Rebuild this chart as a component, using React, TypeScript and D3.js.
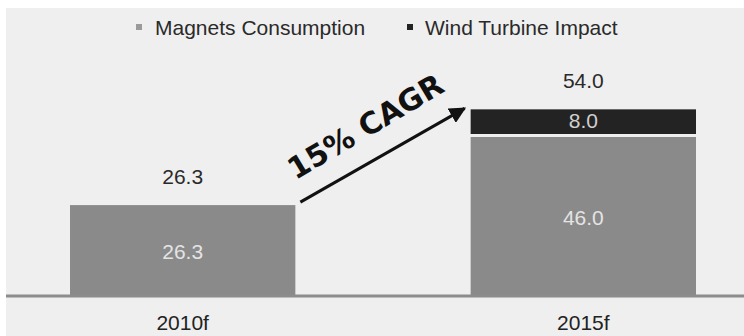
import React from "react";
import * as d3 from "d3";

// Rare-earth magnet demand (thousand tonnes)
const categories = ["2010f", "2015f"];
const magnetsConsumption = [26.3, 46.0];
const windTurbineImpact = [0, 8.0];
const seriesNames = ["Magnets Consumption", "Wind Turbine Impact"];
const cagrLabel = "15% CAGR";

const W = 744;
const H = 336;
const BASE = 296;
const GAP = 3;

const colors = { magnets: "#8a8a8a", wind: "#232323", bg: "#efefef", axis: "#8c8c8c" };
const font = "'Liberation Sans', Arial, sans-serif";

export default function App() {
  const x = d3.scaleBand<string>().domain(categories).range([70, 696]).paddingInner(0.4375).paddingOuter(0);
  const y = d3.scaleLinear().domain([0, 46]).range([BASE, 137]);

  const rows = categories.map((c, i) => ({
    cat: c,
    m: magnetsConsumption[i],
    w: windTurbineImpact[i],
    total: magnetsConsumption[i] + windTurbineImpact[i],
  }));

  const bw = x.bandwidth();

  // Arrow between the two bars
  const x0 = x(categories[0])! + bw;
  const x1 = x(categories[1])!;
  const tail = [x0 + 5, y(rows[0].total) - 3];
  const head = [x1 - 6, y(rows[1].total) - 1];
  const ang = (Math.atan2(head[1] - tail[1], head[0] - tail[0]) * 180) / Math.PI;
  const mid = [(tail[0] + head[0]) / 2 - 16, (tail[1] + head[1]) / 2 - 27];

  return (
    <svg width={W} height={H} style={{ position: "absolute", left: 0, top: 0, background: "#fff" }}>
      <defs>
        <marker id="ah" viewBox="0 0 10 10" refX="9" refY="5" markerWidth="5.5" markerHeight="5.5" orient="auto">
          <path d="M0,0 L10,5 L0,10 z" fill="#111" />
        </marker>
      </defs>
      <rect x={6} y={8} width={W - 6} height={H - 8} fill={colors.bg} />

      {/* legend */}
      <g fontFamily={font} fontSize={21} fill="#2a2a2a">
        <rect x={136} y={24} width={6} height={6} fill="#9a9a9a" />
        <text x={155} y={35}>{seriesNames[0]}</text>
        <rect x={407} y={24} width={6} height={6} fill={colors.wind} />
        <text x={425} y={35}>{seriesNames[1]}</text>
      </g>

      {/* bars */}
      {rows.map((r) => {
        const bx = x(r.cat)!;
        return (
          <g key={r.cat} fontFamily={font} fontSize={21} textAnchor="middle">
            <rect x={bx} y={y(r.m)} width={bw} height={BASE - y(r.m)} fill={colors.magnets} />
            <text x={bx + bw / 2} y={(y(r.m) + BASE) / 2 + 3} fill="#e4e4e4" dominantBaseline="middle">
              {r.m.toFixed(1)}
            </text>
            {r.w > 0 && (
              <>
                <rect x={bx} y={y(r.total)} width={bw} height={y(r.m) - y(r.total) - GAP} fill={colors.wind} />
                <text x={bx + bw / 2} y={(y(r.total) + y(r.m) - GAP) / 2 + 1} fill="#cfcfcf" dominantBaseline="middle">
                  {r.w.toFixed(1)}
                </text>
              </>
            )}
            <text x={bx + bw / 2} y={y(r.total) - 21} fill="#2a2a2a">
              {r.total.toFixed(1)}
            </text>
            <text x={bx + bw / 2} y={330} fill="#222">
              {r.cat}
            </text>
          </g>
        );
      })}

      {/* baseline */}
      <line x1={6} x2={W} y1={BASE} y2={BASE} stroke={colors.axis} strokeWidth={3} />

      {/* growth arrow */}
      <line x1={tail[0]} y1={tail[1]} x2={head[0]} y2={head[1]} stroke="#111" strokeWidth={3} markerEnd="url(#ah)" />
      <text
        x={mid[0]}
        y={mid[1]}
        transform={`rotate(${ang - 1} ${mid[0]} ${mid[1]})`}
        textAnchor="middle"
        dominantBaseline="middle"
        fontFamily="'DejaVu Sans', Verdana, sans-serif"
        fontWeight="bold"
        fontSize={30}
        fill="#111"
      >
        {cagrLabel}
      </text>
    </svg>
  );
}
